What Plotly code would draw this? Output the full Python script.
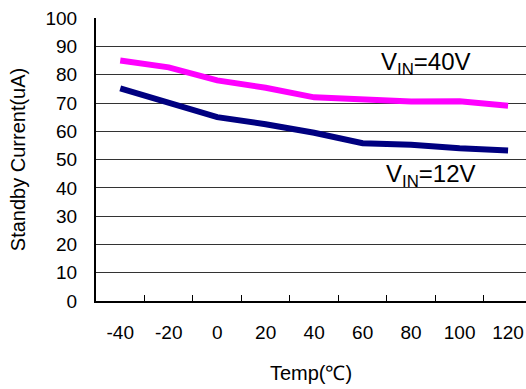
import plotly.graph_objects as go

temps = ["-40", "-20", "0", "20", "40", "60", "80", "100", "120"]
vin40 = [85, 82.6, 78, 75.4, 72, 71.3, 70.5, 70.6, 69]
vin12 = [75.2, 70, 65, 62.5, 59.5, 55.8, 55.2, 54, 53.2]
y_ticks = [0, 10, 20, 30, 40, 50, 60, 70, 80, 90, 100]

FONT = "Liberation Sans, Arial, sans-serif"

fig = go.Figure()
fig.add_trace(go.Scatter(x=temps, y=vin40, mode="lines",
                         line=dict(color="#FF00FF", width=6), showlegend=False))
fig.add_trace(go.Scatter(x=temps, y=vin12, mode="lines",
                         line=dict(color="#000080", width=6), showlegend=False))

fig.add_annotation(x=6.31, y=84, xref="x", yref="y", text="V<sub>IN</sub>=40V",
                   showarrow=False, font=dict(family=FONT, size=24, color="black"))
fig.add_annotation(x=6.41, y=44.5, xref="x", yref="y", text="V<sub>IN</sub>=12V",
                   showarrow=False, font=dict(family=FONT, size=24, color="black"))

fig.update_layout(
    width=526, height=389,
    margin=dict(l=96, r=0, t=18, b=88),
    paper_bgcolor="white", plot_bgcolor="white",
    font=dict(family=FONT, size=19, color="black"),
    xaxis=dict(
        type="category", range=[-0.5, 8.37],
        tickson="boundaries", ticks="inside", ticklen=6, tickcolor="black", tickwidth=1,
        showline=True, linecolor="black", linewidth=2,
        showgrid=False, zeroline=False,
        tickfont=dict(size=19), ticklabelstandoff=13,
        title=dict(text="Temp(℃)", font=dict(size=20), standoff=24),
    ),
    yaxis=dict(
        range=[0, 100.05], tickvals=y_ticks,
        showline=True, linecolor="black", linewidth=2,
        showgrid=True, gridcolor="#333333", gridwidth=1,
        zeroline=False, ticks="",
        tickfont=dict(size=19), ticklabelstandoff=13,
        title=dict(text="Standby Current(uA)", font=dict(size=20), standoff=14),
    ),
)

fig.write_html(
    "out.html",
    config={"displayModeBar": False},
    post_script="document.body.style.margin='0';document.body.style.overflow='hidden';",
)
